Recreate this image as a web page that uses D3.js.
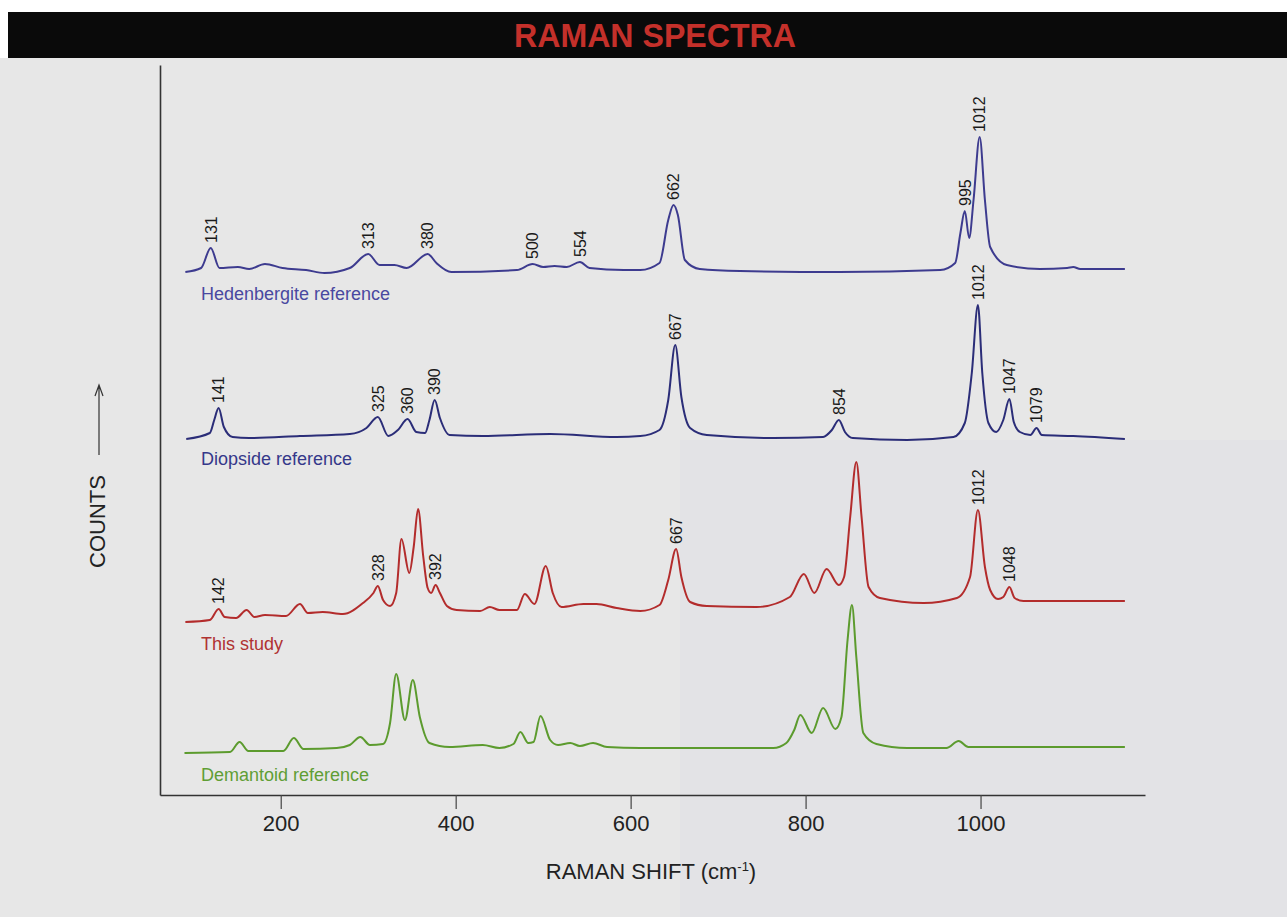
<!DOCTYPE html>
<html>
<head>
<meta charset="utf-8">
<script src="https://cdn.jsdelivr.net/npm/d3@7"></script>
<style>
  body { margin: 0; background: #fff; }
  svg { display: block; font-family: "Liberation Sans", Arial, sans-serif; }
</style>
</head>
<body>
<svg width="1287" height="917"></svg>
<script>
// spectra: [raman shift, counts above the trace's own baseline]
var hedenbergite = [[91,0],[109,4],[120,24],[130,4],[151,5],[164,3],[182,8],[202,4],[229,2],[250,-1],[279,4],[300,18],[313,7],[330,7],[344,4],[368,18],[378,9],[395,0],[470,2],[488,8],[500,5],[513,6],[527,5],[542,10],[553,4],[592,2],[611,2],[633,9],[643,52],[649,67],[654,57],[662,12],[679,3],[725,1],[839,0],[954,2],[971,9],[977,39],[982,61],[987,34],[992,72],[999,135],[1005,72],[1011,25],[1030,7],[1068,3],[1099,4],[1106,5],[1114,3],[1165,3]]
var diopside = [[92,-2],[119,4],[124,17],[129,29],[135,10],[145,0],[164,-1],[222,1],[279,3],[298,9],[311,20],[323,1],[334,7],[345,18],[355,5],[365,4],[370,17],[376,37],[382,19],[393,2],[431,1],[508,3],[584,0],[611,1],[633,7],[643,37],[651,92],[658,40],[668,9],[687,2],[763,-1],[820,0],[830,7],[838,17],[845,5],[854,-1],[916,-3],[969,0],[982,14],[990,64],[997,132],[1002,64],[1009,14],[1018,5],[1026,17],[1033,38],[1038,15],[1045,5],[1057,2],[1064,9],[1070,2],[1106,1],[1165,-2]]
var thisStudy = [[91,0],[119,2],[129,13],[136,5],[149,4],[161,12],[170,5],[182,7],[206,6],[222,18],[231,9],[248,10],[271,8],[294,19],[306,29],[311,36],[317,22],[325,16],[332,29],[338,83],[347,49],[352,75],[357,113],[363,65],[368,34],[372,29],[377,37],[382,29],[390,16],[401,12],[428,11],[439,15],[450,12],[470,12],[479,28],[490,18],[503,56],[511,29],[521,15],[546,18],[561,18],[584,14],[611,11],[633,17],[643,42],[652,73],[658,45],[668,20],[687,16],[744,15],[782,25],[798,48],[810,29],[824,53],[838,37],[844,45],[851,105],[858,160],[864,105],[872,35],[885,24],[935,19],[973,24],[988,45],[997,112],[1005,55],[1011,32],[1020,23],[1026,25],[1033,35],[1039,24],[1049,21],[1165,21]]
var demantoid = [[90,0],[142,1],[153,11],[163,2],[203,2],[215,15],[226,4],[264,5],[279,8],[291,16],[302,8],[317,9],[325,30],[332,79],[342,33],[351,73],[359,36],[370,10],[393,6],[431,8],[450,5],[466,9],[474,21],[483,10],[489,11],[497,37],[508,13],[517,8],[531,10],[542,7],[557,10],[573,6],[611,5],[763,5],[778,10],[787,23],[794,38],[807,20],[820,45],[834,24],[841,36],[848,113],[853,148],[858,96],[866,20],[881,9],[916,5],[961,5],[975,12],[986,6],[1030,6],[1165,6]]

// peak labels: [printed value, shift where the peak sits]
var hedPeaks = [["131",120],["313",300],["380",368],["500",488],["554",542],["662",649],["995",982],["1012",999]]
var dioPeaks = [["141",129],["325",311],["360",345],["390",376],["667",651],["854",838],["1012",997],["1047",1033],["1079",1064]]
var studyPeaks = [["142",129],["328",311],["392",377],["667",652],["1012",997],["1048",1033]]

var seriesNames = ["Hedenbergite reference","Diopside reference","This study","Demantoid reference"]
var seriesColors = ["#3d3b8f","#2b2d78","#b32c2c","#5c9b2e"]
var seriesLabelColors = ["#4a48a0","#35388a","#b03232","#5f9e35"]
var baselines = [523,358,173,42]   // stacking offsets in counts
var xTicks = [200,400,600,800,1000]

var series = [hedenbergite, diopside, thisStudy, demantoid].map(function(d,i){
    return {name: seriesNames[i], values: d, color: seriesColors[i], labelColor: seriesLabelColors[i],
            base: baselines[i], peaks: [hedPeaks, dioPeaks, studyPeaks, []][i]}
})

var svg = d3.select("svg")

// page
svg.append("rect").attr("width",1287).attr("height",917).attr("fill","#fff")
svg.append("rect").attr("x",0).attr("y",58).attr("width",1287).attr("height",859).attr("fill","#e7e7e7")
svg.append("rect").attr("x",680).attr("y",440).attr("width",607).attr("height",477).attr("fill","#e3e3e6")

// title bar
svg.append("rect").attr("x",8).attr("y",12).attr("width",1279).attr("height",46).attr("fill","#0a0a0a")
svg.append("text")
    .attr("x",655).attr("y",47)
    .attr("text-anchor","middle")
    .attr("textLength",282).attr("lengthAdjust","spacingAndGlyphs")
    .style("font-size","33px").style("font-weight","bold")
    .style("fill","#c4302a")
    .text("RAMAN SPECTRA")

var x = d3.scaleLinear().domain([62,1188]).range([160,1145])
var y = d3.scaleLinear().domain([0,730]).range([795,65])

// axes
var xAxis = svg.append("g")
    .attr("transform","translate(0,795)")
    .call(d3.axisBottom(x).tickValues(xTicks).tickFormat(d3.format("d"))
        .tickSize(14).tickSizeOuter(0).tickPadding(6))
xAxis.select(".domain").attr("stroke","#333").attr("stroke-width",1.6)
xAxis.selectAll(".tick line").attr("stroke","#444").attr("stroke-width",1.2)
xAxis.selectAll(".tick text").style("font-size","22px").style("fill","#222")
    .style("font-family","'Liberation Sans', Arial, sans-serif")

var yAxis = svg.append("g")
    .attr("transform","translate(160,0)")
    .call(d3.axisLeft(y).tickValues([]).tickSizeOuter(0))
yAxis.select(".domain").attr("stroke","#333").attr("stroke-width",1.6)

// axis titles
var xt = svg.append("text")
    .attr("x",651).attr("y",879)
    .attr("text-anchor","middle")
    .style("font-size","22px").style("fill","#222")
xt.append("tspan").text("RAMAN SHIFT (cm")
xt.append("tspan").attr("dy",-8).style("font-size","13px").text("-1")
xt.append("tspan").attr("dy",8).text(")")

svg.append("text")
    .attr("transform","translate(105,568) rotate(-90)")
    .style("font-size","22px").style("fill","#222")
    .text("COUNTS")
svg.append("path")
    .attr("d","M99,455 L99,385 M95,396 L99,385 L103,396")
    .attr("fill","none").attr("stroke","#333").attr("stroke-width",1.2)

// spectra
var line = d3.line()
    .x(function(d){ return x(d[0]) })
    .curve(d3.curveMonotoneX)

series.forEach(function(s){
    svg.append("path")
        .datum(s.values)
        .attr("d", line.y(function(d){ return y(s.base + d[1]) }))
        .attr("fill","none")
        .attr("stroke",s.color)
        .attr("stroke-width",2)
        .attr("stroke-linejoin","round")

    svg.append("text")
        .attr("x",201).attr("y",y(s.base)+28)
        .style("font-size","18px").style("fill",s.labelColor)
        .text(s.name)

    var lookup = new Map(s.values.map(function(d){ return [d[0], d[1]] }))
    svg.selectAll(null)
        .data(s.peaks)
        .enter().append("text")
        .attr("transform",function(d){
            var c = lookup.has(d[1]) ? lookup.get(d[1]) : d3.max(s.values.filter(function(v){ return Math.abs(v[0]-d[1]) < 4 }), function(v){ return v[1] })
            return "translate(" + x(d[1]) + "," + (y(s.base + c) - 5) + ") rotate(-90)"
        })
        .attr("dy","0.36em")
        .style("font-size","16px").style("fill","#1a1a1a")
        .text(function(d){ return d[0] })
})
</script>
</body>
</html>
